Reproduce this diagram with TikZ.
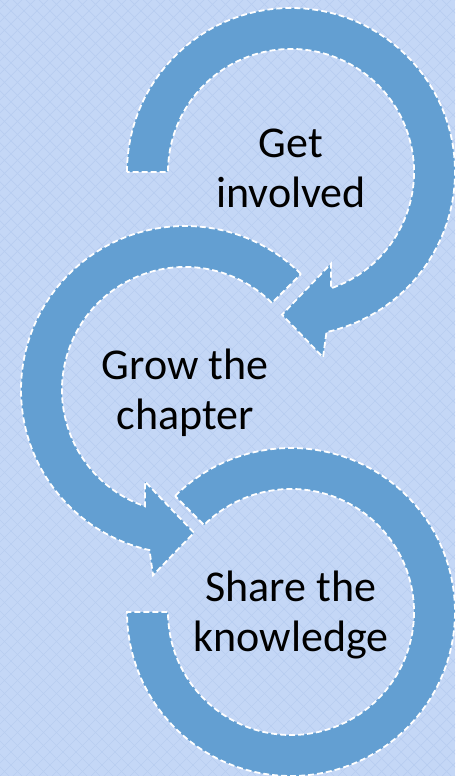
\documentclass[tikz,border=0pt]{standalone}
\usepackage{fontspec}
\setmainfont{Carlito}
\definecolor{bgblue}{HTML}{C4D7F6}
\definecolor{patblue}{HTML}{B8CEF1}
\definecolor{ringblue}{HTML}{639FD2}
\begin{document}
\begin{tikzpicture}[x=1pt,y=1pt,
  ring/.style={fill=ringblue, draw=white, line width=1.8pt, dash pattern=on 6pt off 3pt, line join=miter},
  lbl/.style={anchor=base, inner sep=0pt, font=\fontsize{44}{50}\selectfont, text=black}]
\useasboundingbox (0,0) rectangle (455,776);
\fill[bgblue] (0,0) rectangle (455,776);
\begin{scope}
  \clip (0,0) rectangle (455,776);
  \foreach \k in {-780,-767,...,460} {
    \draw[patblue, line width=0.7pt] (\k,0) -- ++(780,780);
    \draw[patblue, line width=0.7pt] (\k+776,0) -- ++(-780,780);
  }
\end{scope}
\coordinate (C1) at (291,604);
\coordinate (C2) at (185,386);
\coordinate (C3) at (291,164);
% circle 1: clockwise arrow
\begin{scope}[shift={(C1)}]
  \draw[ring] (180:164) arc[start angle=180, end angle=-77.5, radius=164]
    -- (-80.2:188) -- (-93.6:143) -- (-66.5:100) -- (-71:123)
    arc[start angle=-71, end angle=180, radius=123] -- cycle;
\end{scope}
% circle 2: counter-clockwise arrow
\begin{scope}[shift={(C2)}]
  \draw[ring] (45:164) arc[start angle=45, end angle=257.5, radius=164]
    -- (260.2:188) -- (273.6:143) -- (246.5:100) -- (251:123)
    arc[start angle=251, end angle=45, radius=123] -- cycle;
\end{scope}
% circle 3: open ring
\begin{scope}[shift={(C3)}]
  \draw[ring] (135:164) arc[start angle=135, end angle=-180, radius=164]
    -- (-180:123) arc[start angle=-180, end angle=135, radius=123] -- cycle;
\end{scope}
\node[lbl] (t1a) at (291,618) {Get};
\node[lbl] (t1b) at (291,568) {involved};
\node[lbl] (t2a) at (185,396) {Grow the};
\node[lbl] (t2b) at (185,346) {chapter};
\node[lbl] (t3a) at (291,174) {Share the};
\node[lbl] (t3b) at (291,124) {knowledge};
\end{tikzpicture}
\end{document}
